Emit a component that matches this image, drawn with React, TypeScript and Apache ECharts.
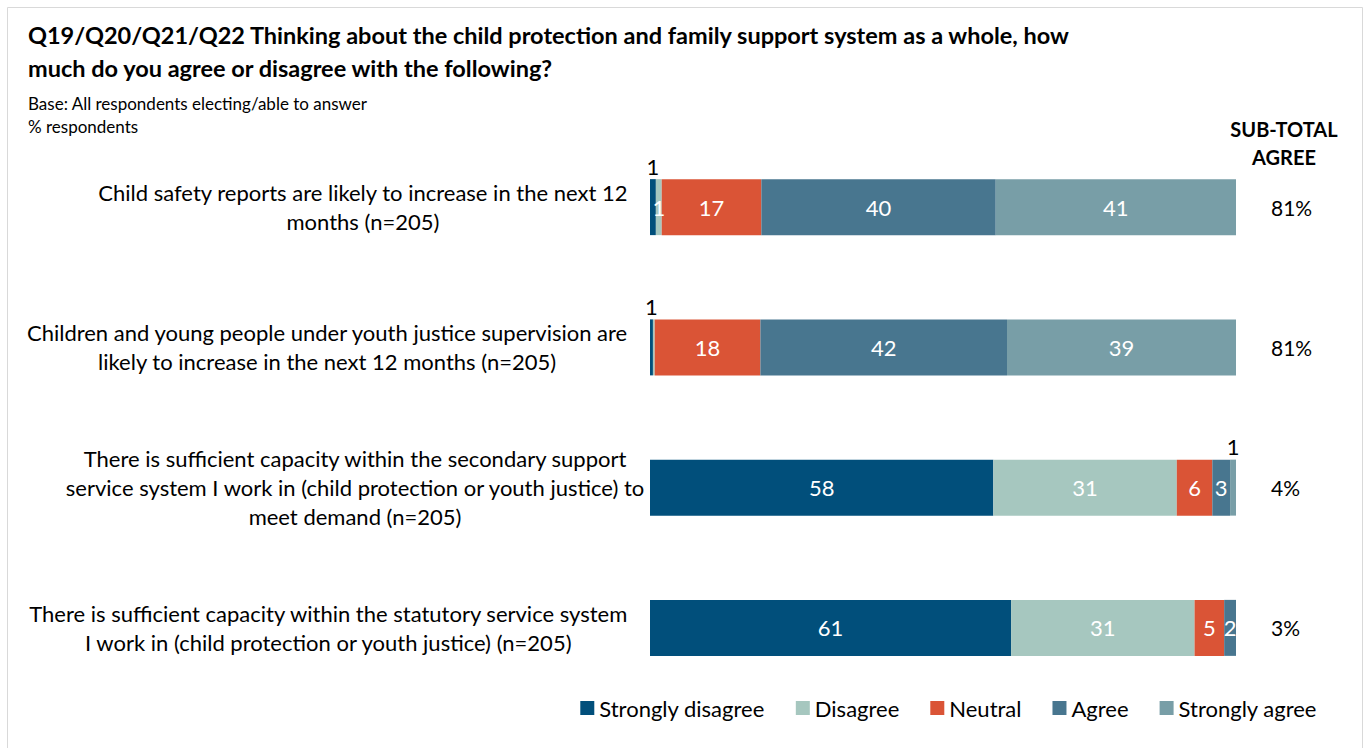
import React, { useEffect, useRef } from "react";
import * as echarts from "echarts";

const categories = [
  "Child safety reports are likely to increase in the next 12\nmonths (n=205)",
  "Children and young people under youth justice supervision are\nlikely to increase in the next 12 months (n=205)",
  "There is sufficient capacity within the secondary support\nservice system I work in (child protection or youth justice) to\nmeet demand (n=205)",
  "There is sufficient capacity within the statutory service system\nI work in (child protection or youth justice) (n=205)",
];
const seriesNames = ["Strongly disagree", "Disagree", "Neutral", "Agree", "Strongly agree"];
// reported % per row (rows are shown as 100% stacked bars)
const stronglyDisagree = [1, 0.5, 58, 61];
const disagree = [1, 0.3, 31, 31];
const neutral = [17, 18, 6, 5];
const agree = [40, 42, 3, 2];
const stronglyAgree = [41, 39, 1, 0];
const subTotals = ["81%", "81%", "4%", "3%"];
// [seriesIndex, rowIndex] of labels drawn above the bar
const labelsAbove = [
  [0, 0],
  [0, 1],
  [4, 2],
];
const colors = ["#014f7b", "#a6c7bf", "#da5436", "#48768f", "#789ea7"];

const FONT = "Lato";

export default function App() {
  const ref = useRef<HTMLDivElement>(null);
  useEffect(() => {
    if (!ref.current) return;
    const chart = echarts.init(ref.current, null, { renderer: "svg" });
    const allValues = [stronglyDisagree, disagree, neutral, agree, stronglyAgree];
    const rowTotals = categories.map((_, ri) =>
      allValues.reduce((s, arr) => s + arr[ri], 0)
    );
    const series = allValues.map((vals, si) => ({
      name: seriesNames[si],
      type: "bar",
      stack: "total",
      barWidth: 56,
      itemStyle: { color: colors[si] },
      data: vals.map((v, ri) => {
        const above = labelsAbove.some((p) => p[0] === si && p[1] === ri);
        const txt = String(Math.round(v));
        const pct = (v / rowTotals[ri]) * 100;
        if (above) {
          return {
            value: pct,
            label: {
              show: true,
              position: "top",
              distance: 2,
              color: "#000",
              fontSize: 22,
              fontFamily: FONT,
              formatter: () => txt,
            },
          };
        }
        return {
          value: pct,
          label: {
            show: v >= 0.8,
            position: "inside",
            color: "#fff",
            fontSize: 22,
            fontFamily: FONT,
            formatter: () => txt,
          },
        };
      }),
    }));
    const categoryData = categories.map((c, i) =>
      i === 2 ? { value: c, textStyle: { padding: [0, -17, 0, 0] } } : c
    );
    chart.setOption({
      animation: false,
      backgroundColor: "#fff",
      textStyle: { fontFamily: FONT },
      title: [
        {
          text:
            "Q19/Q20/Q21/Q22 Thinking about the child protection and family support system as a whole, how\nmuch do you agree or disagree with the following?",
          left: 28,
          top: 18,
          padding: 0,
          textStyle: {
            fontFamily: FONT,
            fontSize: 23.5,
            fontWeight: "bold",
            color: "#000",
            lineHeight: 33,
          },
        },
        {
          text: "Base: All respondents electing/able to answer\n% respondents",
          left: 28,
          top: 92,
          padding: 0,
          textStyle: {
            fontFamily: FONT,
            fontSize: 17,
            fontWeight: "normal",
            color: "#000",
            lineHeight: 23,
          },
        },
      ],
      graphic: [
        {
          type: "rect",
          shape: { x: 7.5, y: 7.5, width: 1355, height: 780 },
          style: { fill: "none", stroke: "#d9d9d9", lineWidth: 1 },
          silent: true,
        },
        {
          type: "text",
          x: 1284,
          y: 115,
          style: {
            text: "SUB-TOTAL\nAGREE",
            textAlign: "center",
            fontFamily: FONT,
            fontSize: 20,
            fontWeight: "bold",
            lineHeight: 28,
            fill: "#000",
          },
        },
      ],
      legend: {
        data: seriesNames,
        top: 692,
        right: 45,
        icon: "rect",
        itemWidth: 14,
        itemHeight: 14,
        itemGap: 31,
        textStyle: { fontFamily: FONT, fontSize: 22, color: "#000" },
      },
      grid: { left: 650, right: 131, top: 137, bottom: 50, containLabel: false },
      xAxis: { type: "value", min: 0, max: 100, show: false },
      yAxis: [
        {
          type: "category",
          inverse: true,
          data: categoryData,
          axisLine: { show: false },
          axisTick: { show: false },
          axisLabel: {
            margin: 22,
            align: "right",
            fontFamily: FONT,
            fontSize: 22,
            color: "#000",
            lineHeight: 29,
            formatter: (val: string) =>
              val
                .split("\n")
                .map((l) => `{c|${l}}`)
                .join("\n"),
            rich: {
              c: { align: "center", fontFamily: FONT, fontSize: 22, lineHeight: 29, color: "#000" },
            },
          },
        },
        {
          type: "category",
          inverse: true,
          position: "right",
          data: subTotals,
          axisLine: { show: false },
          axisTick: { show: false },
          axisLabel: {
            margin: 35,
            align: "left",
            fontFamily: FONT,
            fontSize: 21,
            color: "#000",
          },
        },
      ],
      series,
    });
    return () => chart.dispose();
  }, []);
  return (
    <div
      ref={ref}
      style={{ position: "fixed", left: 0, top: 0, width: 1367, height: 748 }}
    />
  );
}
